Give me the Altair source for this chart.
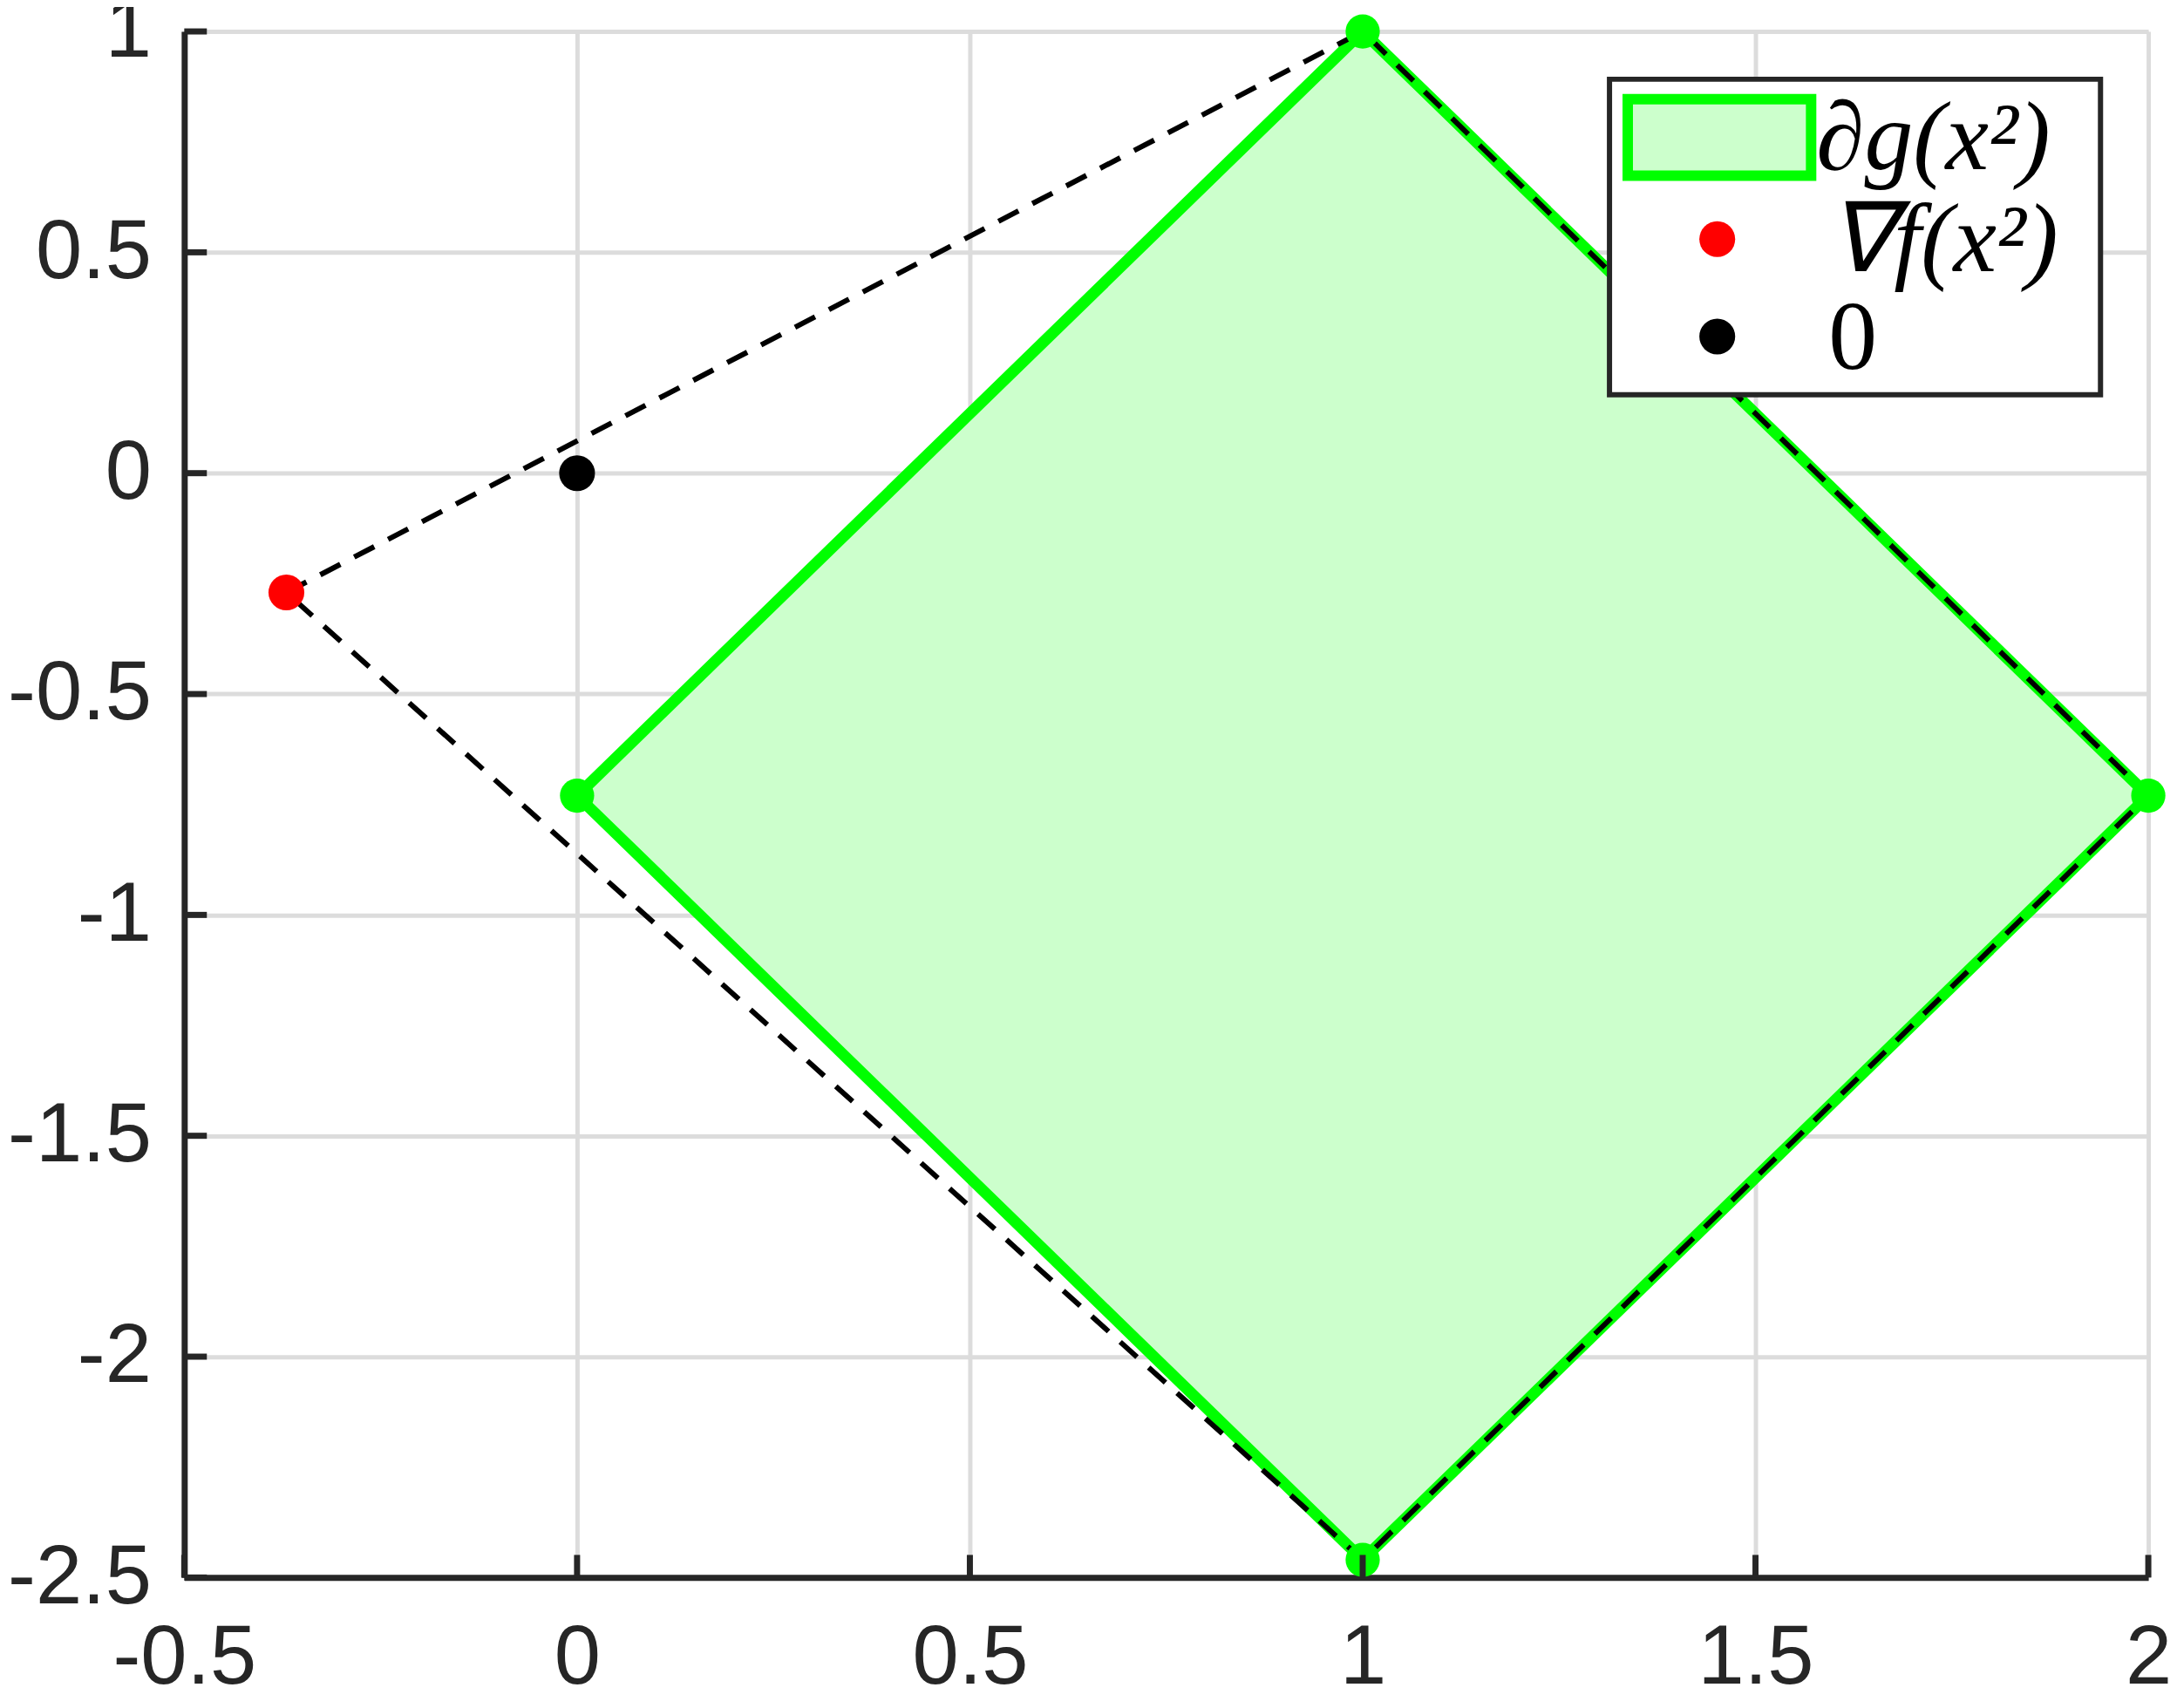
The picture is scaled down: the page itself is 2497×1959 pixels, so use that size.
import altair as alt
import pandas as pd

# ---- data ----
x_ticks = [-0.5, 0, 0.5, 1, 1.5, 2]
y_ticks = [-2.5, -2, -1.5, -1, -0.5, 0, 0.5, 1]

# diamond (subdifferential) vertices, closed
diamond_x = [0, 1, 2, 1, 0]
diamond_y = [-0.73, 1, -0.73, -2.46, -0.73]
# same diamond as an area band
area_x = [0, 1, 2]
area_top = [-0.73, 1, -0.73]
area_bottom = [-0.73, -2.46, -0.73]
# dashed hull through the gradient point
hull_x = [-0.37, 1, 2, 1, -0.37]
hull_y = [-0.27, 1, -0.73, -2.46, -0.27]
# points
grad_x, grad_y = [-0.37], [-0.27]
zero_x, zero_y = [0], [0]
vert_x = [1, 2, 1, 0]
vert_y = [1, -0.73, -2.46, -0.73]

W, H = 2260, 1779
AX = "#262626"
GREEN = "#00ff00"
FILL = "#ccffcc"

xs = alt.Scale(domain=[-0.5, 2], nice=False, zero=False)
ys = alt.Scale(domain=[-2.5, 1], nice=False, zero=False)
lab_font = "Liberation Sans"

x_axis = alt.Axis(values=x_ticks, labelExpr="toString(datum.value)", title=None,
                  grid=True, gridColor="#dcdcdc", gridWidth=5, ticks=False,
                  domainColor=AX, domainWidth=7, labelFont=lab_font, labelFontSize=96,
                  labelColor=AX, labelPadding=46, labelFlush=False, labelOverlap=False,
                  labelLimit=0)
y_axis = alt.Axis(values=y_ticks, labelExpr="toString(datum.value)", title=None,
                  grid=True, gridColor="#dcdcdc", gridWidth=5, ticks=False,
                  domainColor=AX, domainWidth=7, labelFont=lab_font, labelFontSize=96,
                  labelColor=AX, labelPadding=38, labelFlush=False, labelOverlap=False,
                  labelLimit=0)

area_df = pd.DataFrame({"x": area_x, "top": area_top, "bottom": area_bottom})
dia_df = pd.DataFrame({"x": diamond_x, "y": diamond_y, "o": list(range(len(diamond_x)))})
hull_df = pd.DataFrame({"x": hull_x, "y": hull_y, "o": list(range(len(hull_x)))})
vert_df = pd.DataFrame({"x": vert_x, "y": vert_y})
grad_df = pd.DataFrame({"x": grad_x, "y": grad_y})
zero_df = pd.DataFrame({"x": zero_x, "y": zero_y})
xt_df = pd.DataFrame({"v": x_ticks})
yt_df = pd.DataFrame({"v": y_ticks})
one = pd.DataFrame({"a": [0]})

area = alt.Chart(area_df).mark_area(color=FILL, opacity=1, clip=False).encode(
    x=alt.X("x:Q", scale=xs, axis=x_axis),
    y=alt.Y("top:Q", scale=ys, axis=y_axis),
    y2="bottom:Q",
)
outline = alt.Chart(dia_df).mark_line(color=GREEN, strokeWidth=13, strokeJoin="miter", clip=False).encode(
    x=alt.X("x:Q", scale=xs), y=alt.Y("y:Q", scale=ys), order="o:Q")
hull = alt.Chart(hull_df).mark_line(color="black", strokeWidth=6, strokeDash=[26, 18], clip=False).encode(
    x=alt.X("x:Q", scale=xs), y=alt.Y("y:Q", scale=ys), order="o:Q")
verts = alt.Chart(vert_df).mark_circle(color=GREEN, opacity=1, size=1550, clip=False).encode(
    x=alt.X("x:Q", scale=xs), y=alt.Y("y:Q", scale=ys))
grad = alt.Chart(grad_df).mark_circle(color="#ff0000", opacity=1, size=1700, clip=False).encode(
    x=alt.X("x:Q", scale=xs), y=alt.Y("y:Q", scale=ys))
zero = alt.Chart(zero_df).mark_circle(color="black", opacity=1, size=1700, clip=False).encode(
    x=alt.X("x:Q", scale=xs), y=alt.Y("y:Q", scale=ys))

# inward ticks
xt = alt.Chart(xt_df).mark_rule(color=AX, strokeWidth=7).encode(
    x=alt.X("v:Q", scale=xs), y=alt.value(H), y2=alt.value(H - 26))
yt = alt.Chart(yt_df).mark_rule(color=AX, strokeWidth=7).encode(
    y=alt.Y("v:Q", scale=ys), x=alt.value(0), x2=alt.value(26))

# legend (layout in pixels)
lg_box = alt.Chart(one).mark_rect(fill="white", stroke=AX, strokeWidth=6).encode(
    x=alt.value(1640), x2=alt.value(2205), y=alt.value(55), y2=alt.value(418))
lg_patch = alt.Chart(one).mark_rect(fill=FILL, stroke=GREEN, strokeWidth=12).encode(
    x=alt.value(1661), x2=alt.value(1872), y=alt.value(78), y2=alt.value(166))
lg_red = alt.Chart(one).mark_circle(color="#ff0000", opacity=1, size=1700).encode(
    x=alt.value(1764), y=alt.value(239))
lg_blk = alt.Chart(one).mark_circle(color="black", opacity=1, size=1700).encode(
    x=alt.value(1764), y=alt.value(351))
tfont = "Liberation Serif"
lg_t1 = alt.Chart(one).mark_text(text="∂g(x²)", font=tfont, fontStyle="italic", fontSize=112,
                                 align="left", baseline="middle", color="black").encode(
    x=alt.value(1878), y=alt.value(124))
lg_t2 = alt.Chart(one).mark_text(text="∇f(x²)", font=tfont, fontStyle="italic", fontSize=112,
                                 align="left", baseline="middle", color="black").encode(
    x=alt.value(1892), y=alt.value(242))
lg_t3 = alt.Chart(one).mark_text(text="0", font=tfont, fontSize=112,
                                 align="left", baseline="middle", color="black").encode(
    x=alt.value(1892), y=alt.value(354))

chart = alt.layer(
    area, outline, hull, verts, grad, zero, xt, yt,
    lg_box, lg_patch, lg_red, lg_blk, lg_t1, lg_t2, lg_t3
).properties(
    width=W, height=H,
    autosize=alt.AutoSizeParams(type="none"),
    padding={"left": 204, "top": 25, "right": 25, "bottom": 147},
).configure_view(stroke=None).configure(background="white")

chart.save("out.html", embed_options={"renderer": "svg", "actions": False})
